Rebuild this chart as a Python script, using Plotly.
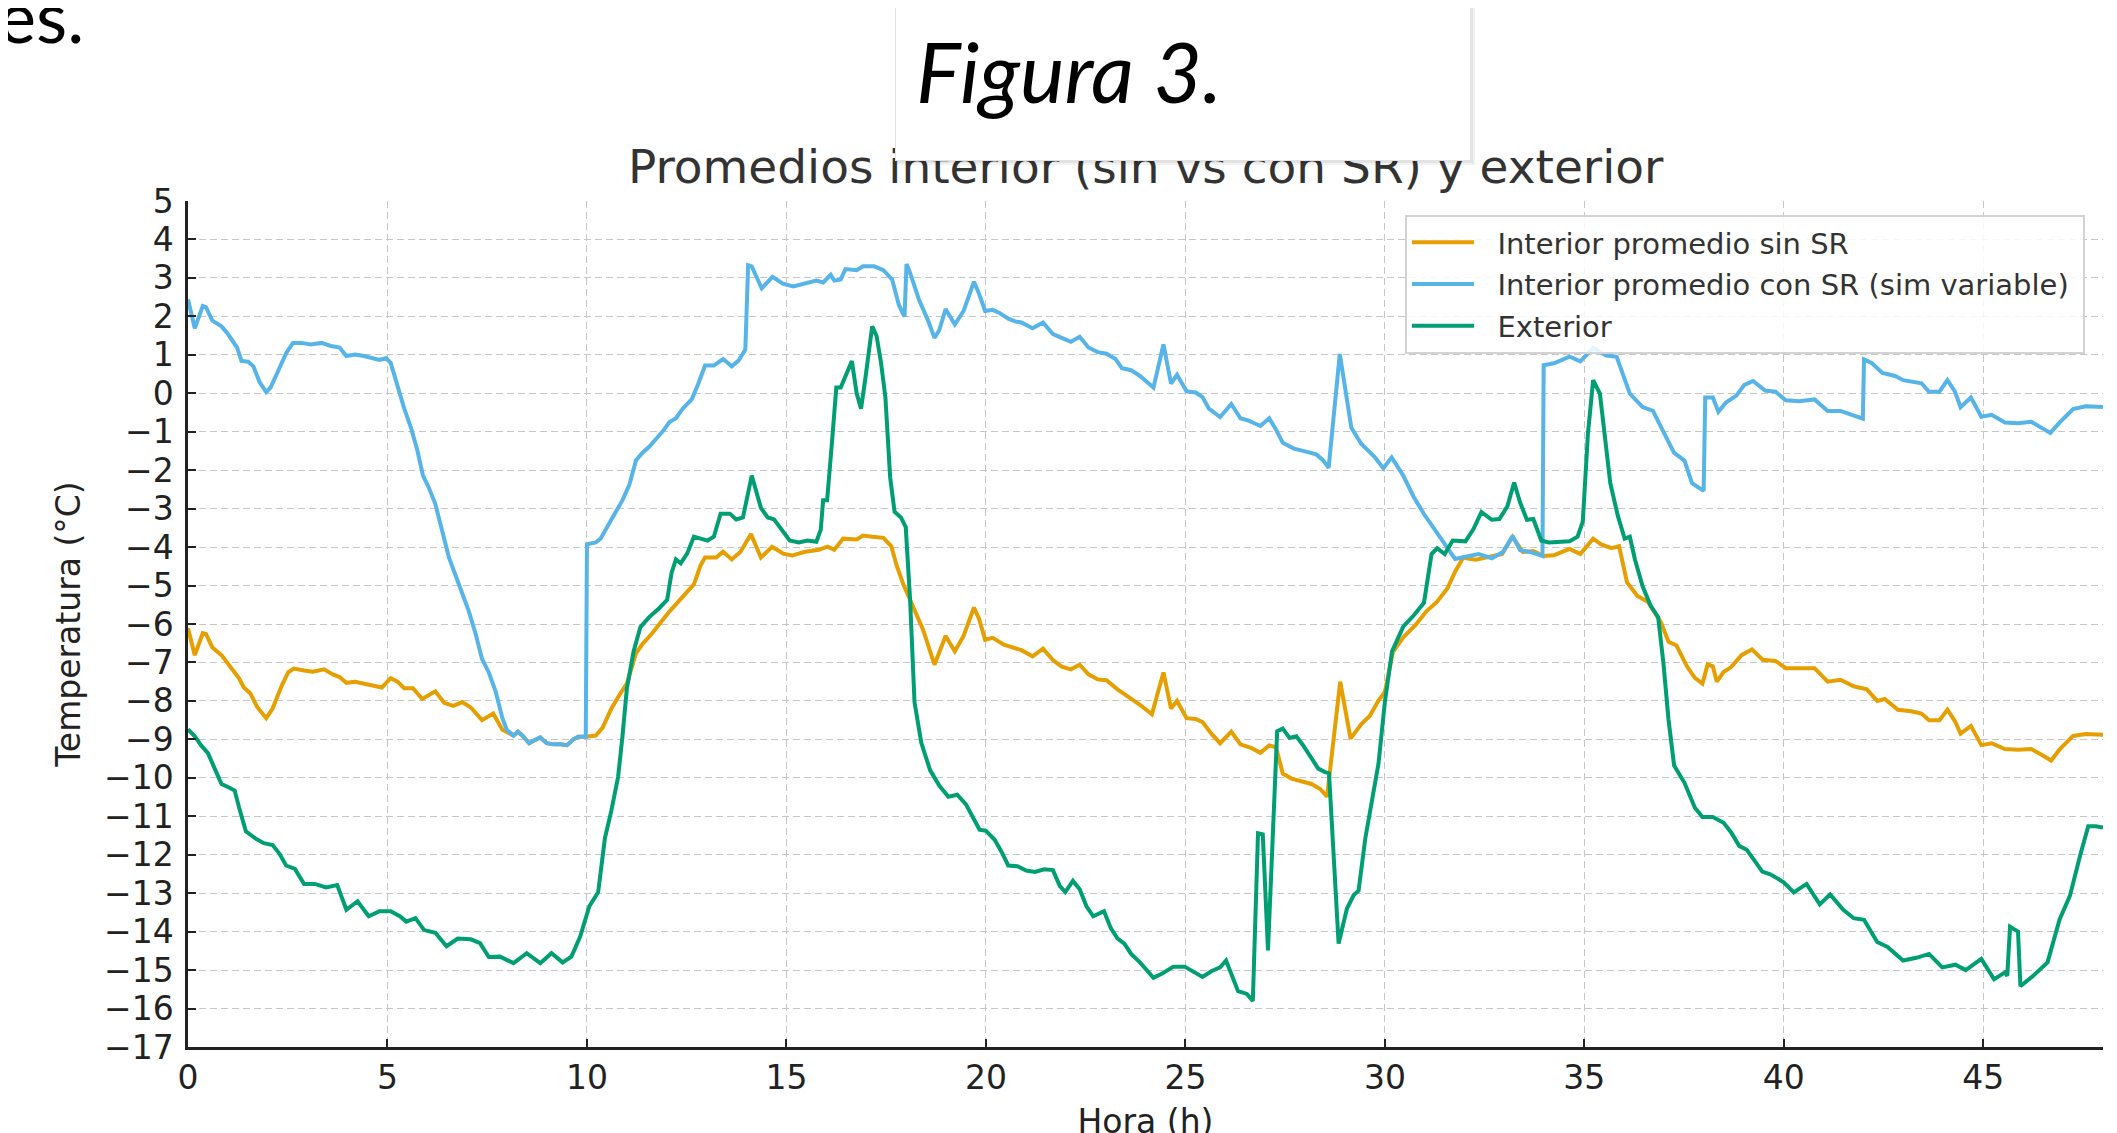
import plotly.graph_objects as go

# ---------------- data ----------------
hours_sin = [0, 0.17, 0.37, 0.45, 0.61, 0.84, 1.06, 1.28, 1.4, 1.56, 1.73, 1.96, 2.12, 2.35, 2.51, 2.65, 2.91, 3.13, 3.41, 3.63, 3.8, 3.97, 4.19, 4.41, 4.64, 4.86, 5.08, 5.25, 5.42, 5.64, 5.87, 6.2, 6.42, 6.65, 6.87, 7.09, 7.37, 7.65, 7.88, 7.99, 8.16, 8.27, 8.38, 8.55, 8.66, 8.83, 8.99, 9.16, 9.33, 9.5, 9.66, 9.78, 9.96, 10.22, 10.39, 10.61, 10.84, 11.0, 11.23, 11.4, 11.62, 11.84, 12.07, 12.29, 12.46, 12.68, 12.85, 12.96, 13.24, 13.41, 13.63, 13.85, 14.11, 14.36, 14.64, 14.92, 15.14, 15.47, 15.81, 16.03, 16.2, 16.42, 16.76, 16.92, 17.15, 17.43, 17.63, 17.76, 17.93, 18.15, 18.43, 18.71, 18.83, 18.99, 19.22, 19.44, 19.7, 19.83, 19.98, 20.17, 20.45, 20.67, 20.89, 21.17, 21.43, 21.68, 21.9, 22.13, 22.35, 22.57, 22.8, 23.02, 23.3, 23.58, 23.86, 24.16, 24.45, 24.64, 24.79, 25.03, 25.26, 25.43, 25.65, 25.87, 26.15, 26.38, 26.66, 26.88, 27.1, 27.27, 27.44, 27.66, 27.94, 28.16, 28.38, 28.55, 28.88, 29.14, 29.41, 29.62, 29.84, 30.0, 30.2, 30.46, 30.78, 31.04, 31.31, 31.57, 31.76, 31.96, 32.28, 32.61, 32.94, 33.2, 33.46, 33.72, 33.98, 34.24, 34.63, 34.9, 35.22, 35.42, 35.68, 35.87, 36.07, 36.33, 36.59, 36.92, 37.11, 37.31, 37.57, 37.77, 37.96, 38.09, 38.22, 38.32, 38.49, 38.68, 38.94, 39.2, 39.47, 39.79, 40.05, 40.38, 40.77, 41.1, 41.42, 41.75, 42.08, 42.34, 42.53, 42.86, 43.19, 43.45, 43.64, 43.9, 44.1, 44.29, 44.43, 44.69, 44.95, 45.21, 45.54, 45.87, 46.2, 46.46, 46.7, 46.92, 47.25, 47.57, 47.96, 48.0]
temp_sin = [-6.11, -6.81, -6.24, -6.26, -6.61, -6.81, -7.11, -7.41, -7.65, -7.8, -8.15, -8.45, -8.2, -7.6, -7.26, -7.16, -7.21, -7.24, -7.18, -7.31, -7.38, -7.53, -7.5, -7.55, -7.6, -7.65, -7.41, -7.5, -7.67, -7.67, -7.95, -7.75, -8.05, -8.13, -8.03, -8.17, -8.5, -8.33, -8.75, -8.8, -8.9, -8.8, -8.9, -9.1, -9.03, -8.95, -9.1, -9.13, -9.13, -9.15, -9.0, -8.93, -8.93, -8.9, -8.7, -8.2, -7.8, -7.55, -6.76, -6.51, -6.26, -5.96, -5.67, -5.42, -5.22, -4.97, -4.47, -4.27, -4.27, -4.12, -4.32, -4.12, -3.66, -4.27, -3.99, -4.17, -4.22, -4.12, -4.07, -3.99, -4.07, -3.78, -3.8, -3.7, -3.73, -3.76, -3.98, -4.47, -4.97, -5.47, -6.16, -7.06, -6.76, -6.31, -6.71, -6.31, -5.57, -5.87, -6.41, -6.36, -6.54, -6.6, -6.68, -6.84, -6.64, -6.94, -7.11, -7.18, -7.06, -7.31, -7.44, -7.46, -7.7, -7.9, -8.1, -8.35, -7.26, -8.2, -8.0, -8.45, -8.47, -8.55, -8.85, -9.1, -8.8, -9.13, -9.23, -9.35, -9.16, -9.2, -9.89, -10.02, -10.11, -10.16, -10.29, -10.49, -7.5, -8.98, -8.6, -8.39, -7.99, -7.77, -6.73, -6.35, -6.01, -5.67, -5.42, -5.07, -4.64, -4.28, -4.33, -4.25, -4.18, -3.73, -4.13, -4.1, -4.23, -4.21, -4.05, -4.18, -3.78, -3.93, -4.03, -3.98, -4.92, -5.27, -5.42, -5.96, -6.46, -6.56, -7.1, -7.4, -7.55, -7.05, -7.1, -7.5, -7.25, -7.12, -6.81, -6.66, -6.93, -6.96, -7.15, -7.15, -7.15, -7.5, -7.45, -7.62, -7.7, -8.0, -7.95, -8.23, -8.27, -8.33, -8.5, -8.5, -8.23, -8.53, -8.85, -8.65, -9.15, -9.1, -9.25, -9.27, -9.25, -9.4, -9.55, -9.25, -8.91, -8.86, -8.88, -8.88]

hours_con = [0, 0.17, 0.37, 0.45, 0.61, 0.84, 1.0, 1.23, 1.34, 1.51, 1.64, 1.79, 1.96, 2.07, 2.29, 2.46, 2.63, 2.85, 3.07, 3.35, 3.58, 3.8, 3.97, 4.19, 4.41, 4.64, 4.8, 4.97, 5.08, 5.25, 5.42, 5.59, 5.75, 5.89, 6.03, 6.2, 6.37, 6.54, 6.7, 6.87, 7.04, 7.21, 7.37, 7.54, 7.71, 7.88, 7.99, 8.16, 8.27, 8.38, 8.55, 8.66, 8.83, 8.99, 9.16, 9.33, 9.5, 9.66, 9.78, 9.97, 10.0, 10.22, 10.34, 10.56, 10.73, 10.89, 11.06, 11.23, 11.4, 11.56, 11.73, 11.9, 12.07, 12.23, 12.4, 12.63, 12.79, 12.96, 13.18, 13.41, 13.63, 13.8, 13.97, 14.04, 14.13, 14.38, 14.65, 14.91, 15.17, 15.47, 15.75, 15.92, 16.11, 16.2, 16.36, 16.48, 16.76, 16.92, 17.2, 17.43, 17.65, 17.82, 17.96, 18.01, 18.1, 18.32, 18.55, 18.71, 18.83, 18.99, 19.22, 19.44, 19.7, 19.83, 19.98, 20.17, 20.34, 20.56, 20.73, 20.89, 21.17, 21.43, 21.68, 21.9, 22.13, 22.35, 22.57, 22.8, 23.02, 23.25, 23.41, 23.64, 23.86, 24.03, 24.2, 24.45, 24.64, 24.79, 25.03, 25.26, 25.43, 25.59, 25.87, 26.15, 26.38, 26.6, 26.88, 27.1, 27.27, 27.44, 27.72, 28.0, 28.28, 28.45, 28.59, 28.87, 29.16, 29.41, 29.74, 29.96, 30.17, 30.46, 30.72, 30.98, 31.24, 31.5, 31.76, 32.02, 32.35, 32.68, 32.96, 33.2, 33.39, 33.66, 33.95, 33.98, 34.24, 34.63, 34.9, 35.22, 35.55, 35.81, 36.14, 36.46, 36.72, 36.98, 37.25, 37.51, 37.7, 37.99, 38.03, 38.22, 38.36, 38.55, 38.81, 39.01, 39.23, 39.53, 39.79, 40.05, 40.38, 40.77, 41.1, 41.42, 41.68, 41.98, 42.01, 42.21, 42.47, 42.79, 42.99, 43.45, 43.64, 43.9, 44.1, 44.29, 44.43, 44.69, 44.95, 45.21, 45.54, 45.87, 46.2, 46.46, 46.68, 46.92, 47.25, 47.57, 47.96, 48.0]
temp_con = [2.44, 1.69, 2.27, 2.24, 1.89, 1.74, 1.54, 1.19, 0.84, 0.82, 0.7, 0.3, 0.03, 0.15, 0.65, 1.04, 1.31, 1.31, 1.27, 1.31, 1.23, 1.19, 0.97, 1.01, 0.97, 0.92, 0.87, 0.91, 0.79, 0.2, -0.4, -0.9, -1.49, -2.14, -2.44, -2.88, -3.58, -4.27, -4.72, -5.17, -5.67, -6.26, -6.91, -7.26, -7.75, -8.45, -8.75, -8.9, -8.8, -8.9, -9.1, -9.03, -8.95, -9.1, -9.13, -9.13, -9.15, -9.0, -8.93, -8.93, -3.93, -3.88, -3.78, -3.38, -3.08, -2.78, -2.39, -1.74, -1.54, -1.39, -1.19, -0.99, -0.75, -0.65, -0.4, -0.15, 0.25, 0.72, 0.72, 0.89, 0.7, 0.85, 1.14, 3.33, 3.3, 2.73, 3.03, 2.85, 2.78, 2.86, 2.93, 2.88, 3.08, 2.93, 2.96, 3.23, 3.2, 3.3, 3.3, 3.2, 2.96, 2.29, 1.99, 3.36, 3.13, 2.44, 1.89, 1.44, 1.64, 2.19, 1.79, 2.14, 2.9, 2.58, 2.14, 2.17, 2.09, 1.94, 1.87, 1.84, 1.69, 1.84, 1.54, 1.44, 1.34, 1.47, 1.19, 1.07, 1.03, 0.89, 0.65, 0.6, 0.45, 0.3, 0.15, 1.27, 0.25, 0.48, 0.05, 0.02, -0.1, -0.4, -0.62, -0.28, -0.65, -0.72, -0.85, -0.65, -0.94, -1.29, -1.44, -1.51, -1.59, -1.74, -1.94, 1.02, -0.9, -1.32, -1.65, -1.95, -1.67, -2.14, -2.69, -3.14, -3.53, -3.93, -4.31, -4.25, -4.18, -4.29, -4.13, -3.71, -4.08, -4.13, -4.23, 0.73, 0.78, 0.95, 0.83, 1.18, 0.98, 0.95, -0.01, -0.36, -0.46, -1.0, -1.55, -1.75, -2.34, -2.54, -0.11, -0.11, -0.48, -0.24, -0.06, 0.22, 0.32, 0.07, 0.04, -0.18, -0.21, -0.16, -0.46, -0.46, -0.56, -0.66, 0.88, 0.78, 0.53, 0.45, 0.34, 0.26, 0.04, 0.04, 0.34, 0.04, -0.36, -0.11, -0.61, -0.56, -0.76, -0.78, -0.74, -0.9, -1.03, -0.75, -0.41, -0.34, -0.36, -0.36]

hours_ext = [0, 0.17, 0.34, 0.5, 0.67, 0.84, 1.0, 1.17, 1.28, 1.45, 1.68, 1.9, 2.12, 2.29, 2.46, 2.68, 2.91, 3.18, 3.46, 3.74, 3.97, 4.25, 4.53, 4.8, 5.08, 5.31, 5.47, 5.7, 5.92, 6.2, 6.48, 6.76, 7.09, 7.32, 7.54, 7.82, 8.16, 8.49, 8.83, 9.11, 9.39, 9.61, 9.83, 10.06, 10.28, 10.45, 10.61, 10.78, 10.89, 11.0, 11.17, 11.34, 11.56, 11.79, 12.01, 12.12, 12.23, 12.35, 12.51, 12.68, 12.85, 13.02, 13.18, 13.35, 13.58, 13.74, 13.91, 14.13, 14.36, 14.53, 14.69, 14.92, 15.08, 15.31, 15.53, 15.75, 15.86, 15.92, 16.02, 16.14, 16.25, 16.36, 16.64, 16.76, 16.87, 16.98, 17.15, 17.26, 17.37, 17.48, 17.6, 17.71, 17.87, 17.99, 18.1, 18.21, 18.38, 18.6, 18.83, 19.06, 19.28, 19.5, 19.67, 19.84, 20.0, 20.22, 20.39, 20.56, 20.79, 21.01, 21.23, 21.46, 21.68, 21.85, 21.99, 22.18, 22.35, 22.52, 22.69, 22.96, 23.13, 23.3, 23.47, 23.64, 23.86, 24.03, 24.2, 24.42, 24.7, 24.98, 25.2, 25.43, 25.65, 25.87, 26.02, 26.15, 26.32, 26.54, 26.69, 26.82, 26.94, 27.07, 27.3, 27.44, 27.61, 27.78, 27.94, 28.16, 28.33, 28.5, 28.6, 28.84, 29.05, 29.22, 29.34, 29.51, 29.62, 29.84, 30.0, 30.18, 30.46, 30.72, 30.98, 31.17, 31.31, 31.5, 31.7, 32.02, 32.22, 32.42, 32.68, 32.87, 33.07, 33.24, 33.39, 33.56, 33.72, 33.92, 34.11, 34.37, 34.63, 34.83, 34.96, 35.09, 35.22, 35.39, 35.55, 35.65, 35.84, 36.01, 36.14, 36.27, 36.46, 36.66, 36.85, 36.98, 37.11, 37.25, 37.51, 37.77, 37.96, 38.22, 38.49, 38.68, 38.88, 39.07, 39.27, 39.46, 39.66, 39.99, 40.25, 40.57, 40.9, 41.16, 41.49, 41.75, 42.01, 42.34, 42.6, 42.99, 43.32, 43.64, 43.97, 44.3, 44.56, 44.95, 45.27, 45.54, 45.6, 45.67, 45.87, 45.93, 46.25, 46.61, 46.91, 47.17, 47.43, 47.63, 47.82, 48.0]
temp_ext = [-8.74, -8.92, -9.17, -9.36, -9.76, -10.16, -10.24, -10.33, -10.77, -11.39, -11.57, -11.7, -11.75, -11.97, -12.28, -12.37, -12.76, -12.76, -12.85, -12.79, -13.43, -13.21, -13.6, -13.47, -13.47, -13.6, -13.74, -13.65, -13.96, -14.03, -14.38, -14.18, -14.2, -14.3, -14.66, -14.65, -14.82, -14.56, -14.82, -14.56, -14.8, -14.65, -14.13, -13.34, -12.98, -11.57, -10.86, -9.98, -8.92, -7.68, -6.71, -6.08, -5.82, -5.61, -5.37, -4.67, -4.32, -4.42, -4.17, -3.73, -3.78, -3.83, -3.73, -3.13, -3.13, -3.28, -3.23, -2.14, -2.98, -3.23, -3.28, -3.63, -3.83, -3.88, -3.83, -3.86, -3.55, -2.78, -2.78, -1.29, 0.15, 0.15, 0.84, 0.0, -0.4, 0.4, 1.74, 1.49, 0.8, -0.1, -2.19, -3.08, -3.23, -3.48, -5.37, -8.03, -9.09, -9.8, -10.2, -10.49, -10.44, -10.69, -11.0, -11.35, -11.38, -11.61, -11.92, -12.28, -12.3, -12.41, -12.45, -12.38, -12.4, -12.81, -12.97, -12.68, -12.9, -13.34, -13.6, -13.47, -13.91, -14.18, -14.31, -14.58, -14.8, -15.02, -15.2, -15.09, -14.91, -14.91, -15.04, -15.18, -15.03, -14.93, -14.75, -15.11, -15.55, -15.62, -15.8, -11.44, -11.47, -14.49, -8.79, -8.72, -8.96, -8.92, -9.14, -9.49, -9.76, -9.85, -9.88, -14.31, -13.4, -13.05, -12.94, -11.57, -10.95, -9.63, -8.03, -6.71, -6.07, -5.78, -5.45, -4.18, -4.03, -4.18, -3.83, -3.85, -3.53, -3.09, -3.29, -3.27, -2.94, -2.32, -2.84, -3.29, -3.27, -3.83, -3.88, -3.86, -3.85, -3.73, -3.34, -1.05, 0.34, -0.01, -1.35, -2.34, -3.19, -3.78, -3.73, -4.33, -5.02, -5.52, -5.82, -7.0, -8.49, -9.68, -10.13, -10.78, -11.02, -11.02, -11.17, -11.42, -11.77, -11.87, -12.16, -12.44, -12.51, -12.71, -12.98, -12.76, -13.29, -13.03, -13.43, -13.65, -13.69, -14.27, -14.4, -14.75, -14.68, -14.58, -14.93, -14.86, -15.0, -14.71, -15.24, -15.06, -15.15, -13.87, -14.0, -15.42, -15.15, -14.8, -13.69, -13.07, -12.01, -11.26, -11.26, -11.29]

series_names = ["Interior promedio sin SR", "Interior promedio con SR (sim variable)", "Exterior"]
series_colors = ["#E69F00", "#56B4E9", "#009E73"]
x_ticks = [0, 5, 10, 15, 20, 25, 30, 35, 40, 45]
y_ticks = list(range(-17, 6))

title_text = "Promedios interior (sin vs con SR) y exterior"
x_title = "Hora (h)"
y_title = "Temperatura (°C)"
figure_caption = "Figura 3."
slide_fragment = "es."

# ---------------- layout helpers ----------------
W, H = 2117, 1133
ML, MR, MT, MB = 180, 22, 193, 94
PW, PH = W - ML - MR, H - MT - MB


def px(xp):
    return (xp - ML) / PW


def py(yp):
    return (H - MB - yp) / PH


FONT = "DejaVu Sans"
NB = "\u00a0"

fig = go.Figure()
for hx, ty, name, col in zip([hours_sin, hours_con, hours_ext],
                             [temp_sin, temp_con, temp_ext],
                             series_names, series_colors):
    fig.add_trace(go.Scatter(x=hx, y=ty, mode="lines", name=NB * 2 + name + NB,
                             legendgroup=name, line=dict(color=col, width=4)))

axis_common = dict(
    showline=True, linecolor="#222222", linewidth=2.5, mirror=False,
    ticks="inside", ticklen=8, tickwidth=2, tickcolor="#222222",
    showgrid=True, gridcolor="#c6c6c6", gridwidth=1.4, griddash="7px,4px",
    zeroline=False, tickfont=dict(family=FONT, size=33, color="#222222"),
)

fig.update_layout(
    width=W, height=H,
    margin=dict(l=ML, r=MR, t=MT, b=MB, autoexpand=False),
    paper_bgcolor="white", plot_bgcolor="white",
    font=dict(family=FONT, color="#222222"),
    xaxis=dict(range=[0, 48], tickvals=x_ticks, ticklabelstandoff=0, **axis_common,
               title=dict(text=x_title, font=dict(family=FONT, size=33, color="#222222"), standoff=19)),
    yaxis=dict(range=[-17, 5], tickvals=y_ticks, ticklabelstandoff=5, **axis_common,
               title=dict(text=y_title, font=dict(family=FONT, size=33, color="#222222"), standoff=14)),
    legend=dict(x=px(1397), y=py(207), xanchor="left", yanchor="top",
                bgcolor="rgba(255,255,255,0.85)", bordercolor="#d3d3d3", borderwidth=2,
                font=dict(family=FONT, size=29, color="#333333"),
                tracegroupgap=1, itemwidth=62),
    showlegend=True,
)

annotations = [
    # chart title (drawn first so the slide box can cover it)
    dict(text=title_text, x=0.5, y=py(158), xref="paper", yref="paper",
         xanchor="center", yanchor="middle", showarrow=False,
         font=dict(family=FONT, size=47, color="#333333")),
    # soft shadow of the caption box
    dict(text=" ", x=px(889), y=py(157), xref="paper", yref="paper",
         xanchor="left", yanchor="bottom", showarrow=False, width=578, height=240,
         bgcolor="rgba(0,0,0,0.05)", borderwidth=0, borderpad=0),
    dict(text=" ", x=px(888), y=py(155), xref="paper", yref="paper",
         xanchor="left", yanchor="bottom", showarrow=False, width=577, height=240,
         bgcolor="rgba(0,0,0,0.06)", borderwidth=0, borderpad=0),
    # caption box
    dict(text=" ", x=px(887), y=py(153), xref="paper", yref="paper",
         xanchor="left", yanchor="bottom", showarrow=False, width=574, height=240,
         bgcolor="white", bordercolor="#e2e2e2", borderwidth=1, borderpad=0),
    dict(text=figure_caption, x=px(906), y=py(63), xref="paper", yref="paper",
         xanchor="left", yanchor="middle", showarrow=False,
         font=dict(family="Lato", size=84, color="#000000", style="italic")),
    # fragment of slide text at top-left
    dict(text=slide_fragment, x=px(78), y=py(7), xref="paper", yref="paper",
         xanchor="right", yanchor="middle", showarrow=False,
         font=dict(family="Lato", size=72, color="#000000")),
]
fig.update_layout(annotations=annotations)

fig.write_html("out.html")
